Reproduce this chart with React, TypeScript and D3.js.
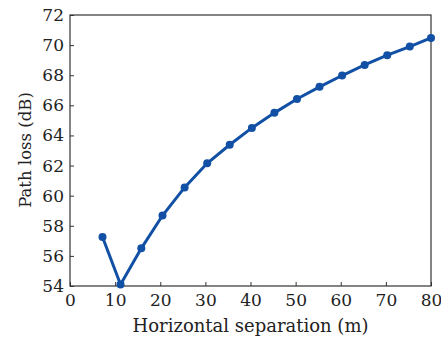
import { useRef, useEffect } from "react";
import * as d3 from "d3";

const separation = [7.2, 11.2, 15.8, 20.5, 25.4, 30.4, 35.4, 40.3, 45.3, 50.3, 55.3, 60.3, 65.3, 70.3, 75.3, 80];
const pathLoss = [57.25, 54.1, 56.5, 58.68, 60.55, 62.15, 63.38, 64.5, 65.5, 66.42, 67.23, 67.98, 68.68, 69.33, 69.9, 70.48];
const xTicks = [0, 10, 20, 30, 40, 50, 60, 70, 80];
const yTicks = [54, 56, 58, 60, 62, 64, 66, 68, 70, 72];

export default function App() {
  const ref = useRef<SVGSVGElement>(null);

  useEffect(() => {
    const svg = d3.select(ref.current);
    svg.selectAll("*").remove();

    const width = 441;
    const height = 341;
    const margin = { top: 15, right: 10, bottom: 55, left: 70 };
    const innerWidth = width - margin.left - margin.right;
    const innerHeight = height - margin.top - margin.bottom;
    const font = "'DejaVu Serif', serif";
    const color = "#1150a4";

    const g = svg
      .append("g")
      .attr("transform", `translate(${margin.left},${margin.top})`);

    const x = d3.scaleLinear().domain([0, 80]).range([0, innerWidth]);
    const y = d3.scaleLinear().domain([54, 72]).range([innerHeight, 0]);

    // frame
    g.append("rect")
      .attr("width", innerWidth)
      .attr("height", innerHeight)
      .attr("fill", "none")
      .attr("stroke", "#333")
      .attr("stroke-width", 1.2);

    // x axis, ticks pointing inward
    const xAxis = g
      .append("g")
      .attr("transform", `translate(0,${innerHeight})`)
      .call(d3.axisBottom(x).tickValues(xTicks).tickSizeInner(-4).tickSizeOuter(0).tickPadding(8));
    xAxis.select(".domain").remove();
    xAxis.selectAll("line").attr("stroke", "#333");
    xAxis.selectAll("text")
      .attr("font-family", font)
      .attr("font-size", 17)
      .attr("fill", "#222");

    // y axis
    const yAxis = g
      .append("g")
      .call(d3.axisLeft(y).tickValues(yTicks).tickSizeInner(-4).tickSizeOuter(0).tickPadding(6));
    yAxis.select(".domain").remove();
    yAxis.selectAll("line").attr("stroke", "#333");
    yAxis.selectAll("text")
      .attr("font-family", font)
      .attr("font-size", 17)
      .attr("fill", "#222");

    // axis titles
    svg.append("text")
      .attr("x", margin.left + innerWidth / 2)
      .attr("y", 332)
      .attr("text-anchor", "middle")
      .attr("font-family", font)
      .attr("font-size", 18)
      .attr("fill", "#222")
      .text("Horizontal separation (m)");

    svg.append("text")
      .attr("transform", `translate(31,150) rotate(-90)`)
      .attr("text-anchor", "middle")
      .attr("font-family", font)
      .attr("font-size", 16.5)
      .attr("fill", "#222")
      .text("Path loss (dB)");

    const data = separation.map((s, i) => ({ s, v: pathLoss[i] }));

    const line = d3
      .line<{ s: number; v: number }>()
      .x((d) => x(d.s))
      .y((d) => y(d.v));

    g.append("path")
      .datum(data)
      .attr("d", line)
      .attr("fill", "none")
      .attr("stroke", color)
      .attr("stroke-width", 3);

    g.selectAll("circle")
      .data(data)
      .join("circle")
      .attr("cx", (d) => x(d.s))
      .attr("cy", (d) => y(d.v))
      .attr("r", 4)
      .attr("fill", color);
  }, []);

  return (
    <svg
      ref={ref}
      width={441}
      height={341}
      style={{ position: "absolute", left: 0, top: 0, background: "#fff" }}
    ></svg>
  );
}
